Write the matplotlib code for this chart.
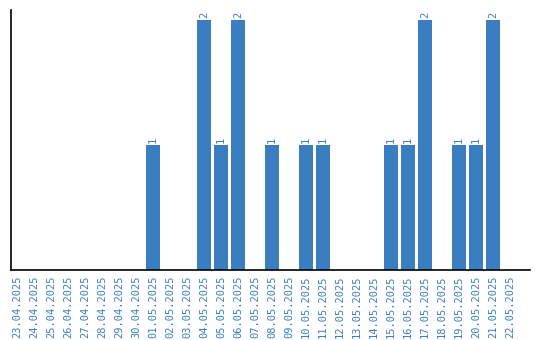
import matplotlib
matplotlib.use("Agg")
import matplotlib.pyplot as plt

dates = ["23.04.2025","24.04.2025","25.04.2025","26.04.2025","27.04.2025","28.04.2025",
         "29.04.2025","30.04.2025","01.05.2025","02.05.2025","03.05.2025","04.05.2025",
         "05.05.2025","06.05.2025","07.05.2025","08.05.2025","09.05.2025","10.05.2025",
         "11.05.2025","12.05.2025","13.05.2025","14.05.2025","15.05.2025","16.05.2025",
         "17.05.2025","18.05.2025","19.05.2025","20.05.2025","21.05.2025","22.05.2025"]
values = [0,0,0,0,0,0,0,0,1,0,0,2,1,2,0,1,0,1,1,0,0,0,1,1,2,0,1,1,2,0]

bar_color = "#3a7dc1"
text_color = "#3a7dc1"

fig = plt.figure(figsize=(5.4, 3.4), dpi=100)
ax = fig.add_axes([11/540, 70/340, (530-11)/540, (270-10)/340])
x = list(range(len(dates)))
bars = ax.bar(x, values, width=0.82, color=bar_color)
for xi, v in zip(x, values):
    if v > 0:
        ax.text(xi, v + 0.02, str(v), rotation=90, ha="center", va="bottom",
                color=text_color, fontsize=7.5, family="DejaVu Sans Mono")
ax.set_xlim(-0.35, 30.18)
ax.set_ylim(0, 2.08)
ax.set_xticks(x)
ax.set_xticklabels(dates, rotation=90, color=text_color, fontsize=7.5, family="DejaVu Sans Mono")
ax.tick_params(axis="x", length=0, pad=4)
ax.set_yticks([])
ax.spines["top"].set_visible(False)
ax.spines["right"].set_visible(False)
ax.spines["left"].set_linewidth(1.2)
ax.spines["bottom"].set_linewidth(1.2)
fig.savefig("out.png", dpi=100)
